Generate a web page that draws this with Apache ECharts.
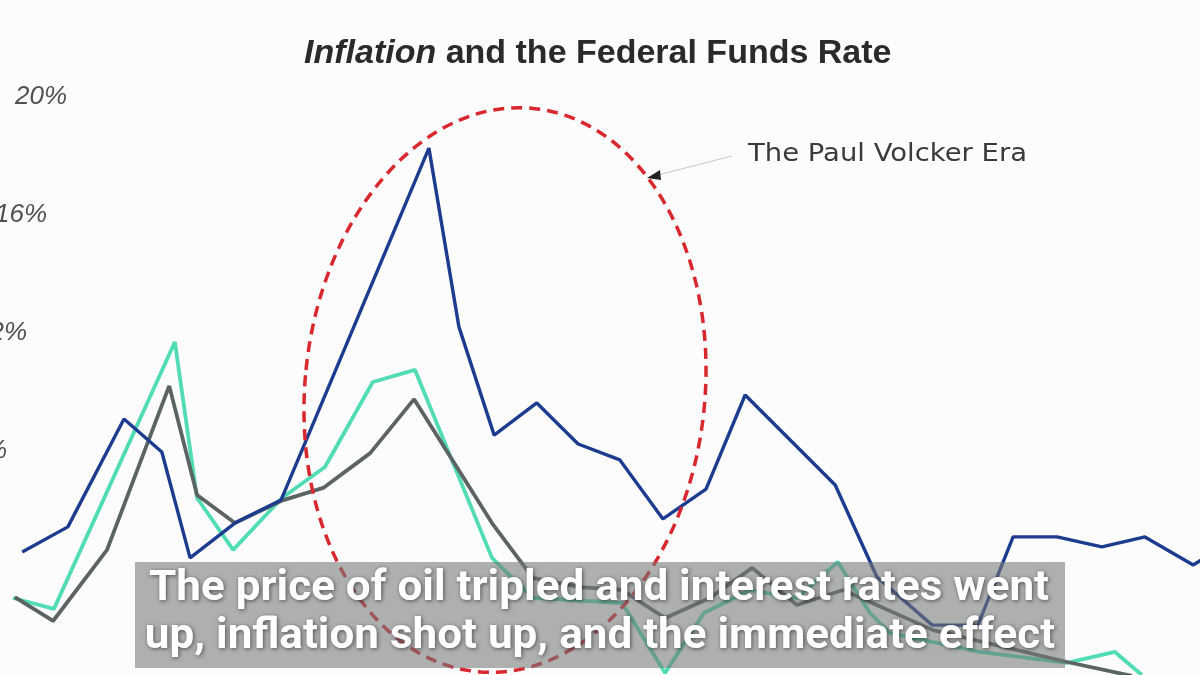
<!DOCTYPE html>
<html>
<head>
<meta charset="utf-8">
<script src="https://cdn.jsdelivr.net/npm/echarts@6/dist/echarts.min.js"></script>
<style>
html,body{margin:0;padding:0;background:#fcfcfc;}
#chart{width:1200px;height:675px;}
</style>
</head>
<body>
<div id="chart"></div>
<script>
// ---------- data ----------
const chartTitleItalic = 'Inflation';
const chartTitleRest = ' and the Federal Funds Rate';
const annotationText = 'The Paul Volcker Era';
const captionLines = ['The price of oil tripled and interest rates went', 'up, inflation shot up, and the immediate effect'];

const yTickValues = [8, 12, 16, 20];
const yTickLabels = ['8%', '12%', '16%', '20%'];

// Federal funds rate (dark blue)
const fedYears = [1965.51, 1966.56, 1967.85, 1968.72, 1969.37, 1970.40, 1971.46, 1974.86, 1975.55, 1976.36, 1977.34, 1978.29, 1979.25, 1980.24, 1981.23, 1982.13, 1984.20, 1985.16, 1986.43, 1987.48, 1988.29, 1989.30, 1990.33, 1991.32, 1992.43, 1992.70];
const fedRates = [4.51, 5.36, 9.02, 7.90, 4.31, 5.49, 6.27, 18.20, 12.14, 8.47, 9.56, 8.17, 7.63, 5.63, 6.64, 9.83, 6.78, 3.66, 2.03, 2.03, 5.02, 5.02, 4.68, 5.02, 4.07, 4.31];

// Inflation, headline (teal)
const inflYears = [1965.30, 1966.24, 1969.02, 1969.53, 1970.36, 1971.48, 1972.47, 1973.57, 1974.54, 1976.31, 1977.25, 1979.30, 1980.29, 1981.18, 1982.24, 1983.32, 1984.26, 1985.00, 1985.46, 1987.53, 1989.53, 1990.63, 1991.25];
const inflRates = [2.95, 2.58, 11.63, 6.34, 4.58, 6.34, 7.39, 10.27, 10.68, 4.31, 2.95, 2.78, 0.41, 2.44, 3.22, 2.95, 4.17, 2.44, 1.76, 1.12, 0.75, 1.12, 0.34];

// Inflation, core (grey)
const coreYears = [1965.34, 1966.22, 1967.46, 1968.89, 1969.53, 1970.40, 1971.46, 1972.43, 1973.51, 1974.52, 1976.31, 1977.25, 1978.33, 1979.30, 1980.29, 1981.32, 1982.29, 1983.32, 1984.38, 1986.45, 1989.53, 1991.02];
const coreRates = [2.98, 2.17, 4.58, 10.14, 6.44, 5.49, 6.24, 6.68, 7.86, 9.69, 5.49, 3.63, 3.32, 3.22, 2.27, 2.95, 3.97, 2.71, 3.22, 1.86, 0.78, 0.31];

// ---------- helpers ----------
function pairs(xs, ys) { return xs.map((x, i) => [x, ys[i]]); }
const measureCtx = document.createElement('canvas').getContext('2d');
function textWidth(font, s) { measureCtx.font = font; return measureCtx.measureText(s).width; }

const captionFont = 'bold 42px Roboto';
const captionScale = 900 / textWidth(captionFont, captionLines[0]);
const annFont = '25px "DejaVu Sans"';
const annScale = 279 / textWidth(annFont, annotationText);

const labelShift = {8: 60, 12: 40, 16: 20, 20: 0};
const labelRich = {};
yTickValues.forEach((v, i) => {
  labelRich['t' + i] = {
    fontSize: 26, fontStyle: 'italic', color: '#505050',
    fontFamily: '"Liberation Sans", Arial, sans-serif',
    padding: [4, labelShift[v], 0, 0]
  };
});

const chart = echarts.init(document.getElementById('chart'), null, {renderer: 'canvas'});
const option = {
  backgroundColor: '#fcfcfc',
  animation: false,
  title: {
    text: '{i|' + chartTitleItalic + '}' + chartTitleRest,
    left: 299, top: 32,
    textStyle: {
      fontSize: 34, fontWeight: 'bold', color: '#2a2a2a',
      fontFamily: '"Liberation Sans", Arial, sans-serif',
      rich: {
        i: {fontSize: 34, fontWeight: 'bold', fontStyle: 'italic', color: '#2a2a2a',
            fontFamily: '"Liberation Sans", Arial, sans-serif'}
      }
    }
  },
  grid: {left: 0, top: 95, width: 1200, height: 590, containLabel: false, outerBoundsMode: 'none'},
  xAxis: {
    type: 'value', min: 1965, max: 1965 + 1200 / 43.5,
    show: false, splitLine: {show: false}
  },
  yAxis: {
    type: 'value', min: 0, max: 20, interval: 4,
    offset: -75,
    axisLine: {show: false}, axisTick: {show: false}, splitLine: {show: false},
    axisLabel: {
      margin: 8,
      formatter: function (v) {
        const i = yTickValues.indexOf(v);
        return i < 0 ? '' : '{t' + i + '|' + yTickLabels[i] + '}';
      },
      rich: labelRich
    }
  },
  series: [
    {name: 'Inflation', type: 'line', data: pairs(inflYears, inflRates), symbol: 'none',
     lineStyle: {color: '#52dcb5', width: 3.8}, z: 2},
    {name: 'Core inflation', type: 'line', data: pairs(coreYears, coreRates), symbol: 'none',
     lineStyle: {color: '#5b6363', width: 3.8}, z: 3},
    {name: 'Federal Funds Rate', type: 'line', data: pairs(fedYears, fedRates), symbol: 'none',
     lineStyle: {color: '#1d3c8f', width: 3.4}, z: 4}
  ],
  graphic: [
    {type: 'ellipse', z: 50, shape: {cx: 505, cy: 390, rx: 200, ry: 283},
     originX: 505, originY: 390, rotation: -0.1,
     style: {fill: 'none', stroke: '#d9272e', lineWidth: 3.5, lineDash: [11, 7]}},
    {type: 'polyline', z: 50, shape: {points: [[732, 156], [658, 175]]},
     style: {stroke: '#c8c8c8', lineWidth: 1, fill: 'none'}},
    {type: 'polygon', z: 51, shape: {points: [[647, 178], [660, 170], [661, 180]]},
     style: {fill: '#222'}},
    {type: 'text', z: 50, x: 748, y: 154, scaleX: annScale,
     style: {text: annotationText, font: annFont, fill: '#3a3a3a',
             textAlign: 'left', textVerticalAlign: 'middle'}},
    {type: 'rect', z: 100, shape: {x: 135, y: 562, width: 930, height: 106},
     style: {fill: 'rgba(118,120,120,0.58)'}},
    {type: 'text', z: 101, x: 599, y: 589, scaleX: captionScale,
     style: {text: captionLines[0], font: captionFont, fill: '#ffffff',
             textAlign: 'center', textVerticalAlign: 'middle',
             textShadowColor: 'rgba(0,0,0,0.55)', textShadowBlur: 4, textShadowOffsetX: 1, textShadowOffsetY: 1}},
    {type: 'text', z: 101, x: 600, y: 637, scaleX: captionScale,
     style: {text: captionLines[1], font: captionFont, fill: '#ffffff',
             textAlign: 'center', textVerticalAlign: 'middle',
             textShadowColor: 'rgba(0,0,0,0.55)', textShadowBlur: 4, textShadowOffsetX: 1, textShadowOffsetY: 1}}
  ]
};
chart.setOption(option);
</script>
</body>
</html>
